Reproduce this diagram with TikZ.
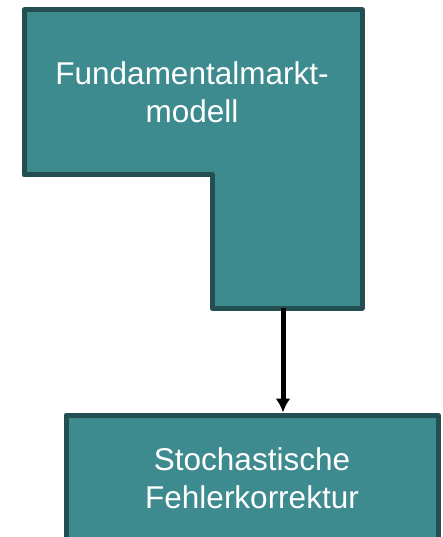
\documentclass[tikz,border=0pt]{standalone}
\usepackage{fontspec}
\setmainfont{Liberation Sans}
\usetikzlibrary{arrows.meta}
\definecolor{boxfill}{HTML}{3D8A8F}
\definecolor{boxline}{HTML}{234F52}
\tikzset{>={Latex[length=14pt,width=15pt]}}

\begin{document}
\begin{tikzpicture}[x=1pt,y=-1pt,
    block/.style={draw=boxline,fill=boxfill,line width=5pt,line join=round},
    label/.style={text=white,align=center,font=\fontsize{31.5}{38}\selectfont,inner sep=0pt},
    flow/.style={->,line width=5pt,black}]
  \useasboundingbox (0,0) rectangle (442,537);

  % L-SHAPED BLOCK
  \draw[block] (24,10) -- (362,10) -- (362,308) -- (212,308)
               -- (212,175) -- (24,175) -- cycle;
  \node[label] (fund) at (192,92) {Fundamentalmarkt-\\modell};
  \coordinate (fundfoot) at (283,308);

  % LOWER BLOCK
  \node[block,label,minimum width=372pt,minimum height=126pt] (korr)
       at (252,478) {Stochastische\\Fehlerkorrektur};

  % CONNECTOR
  \draw[flow] (fundfoot) -- (fundfoot |- korr.north);
\end{tikzpicture}
\end{document}
